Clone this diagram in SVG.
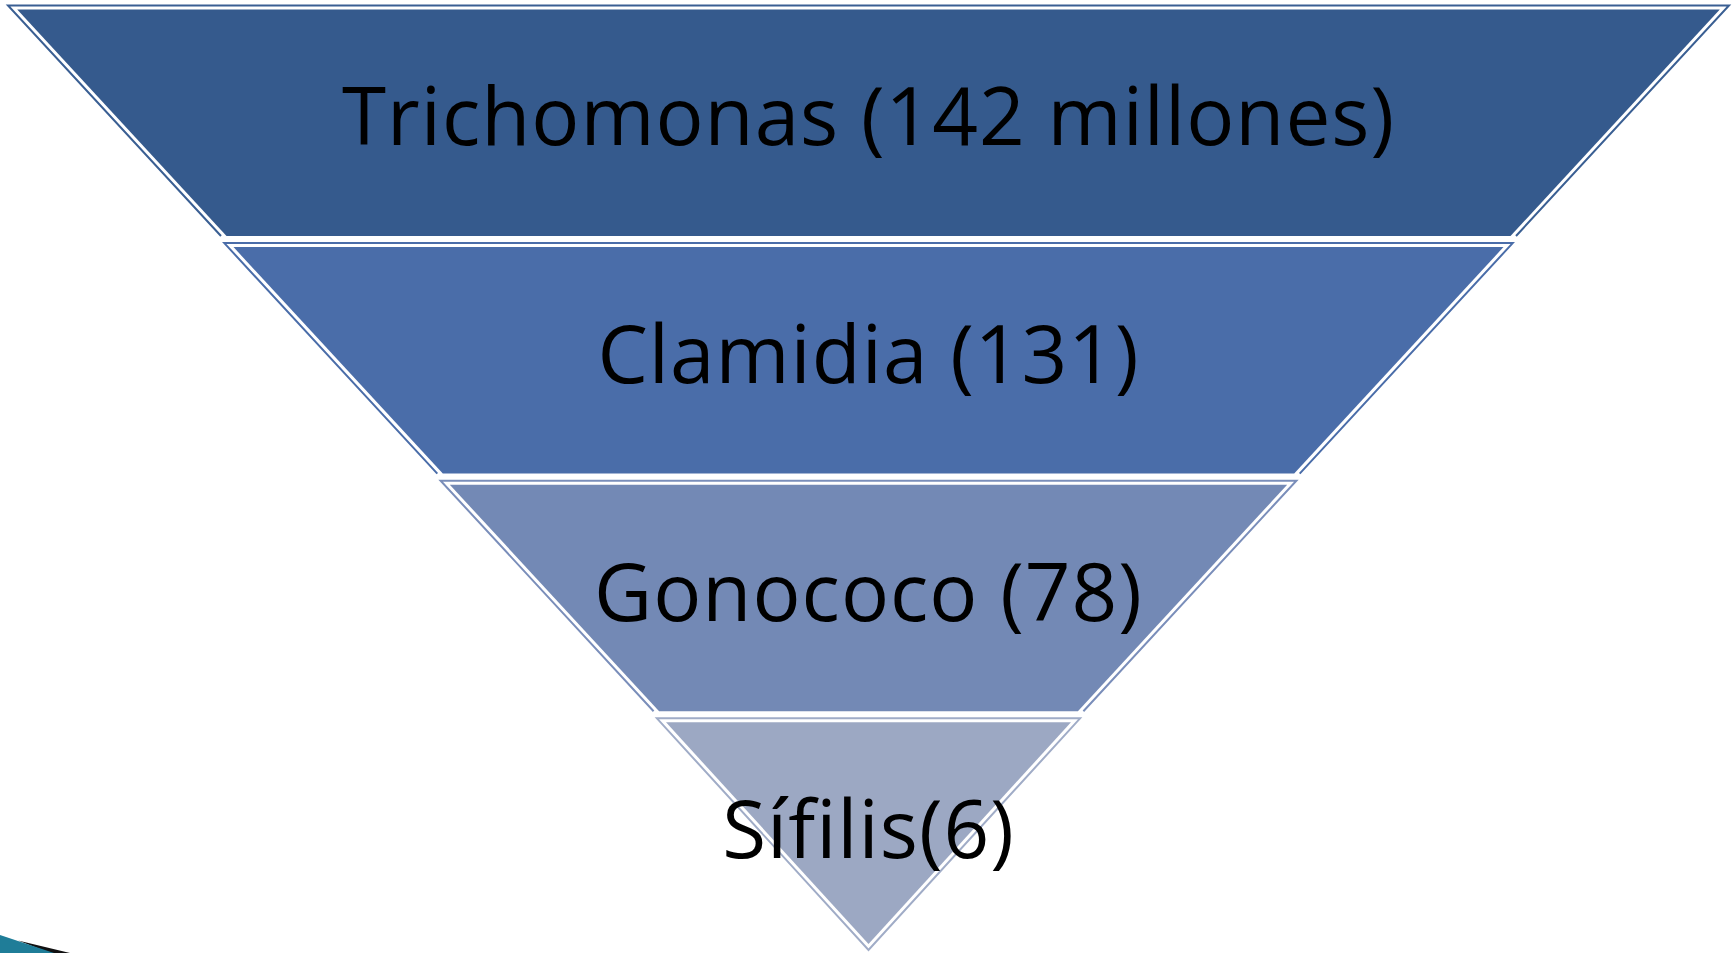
<svg xmlns="http://www.w3.org/2000/svg" width="1733" height="953" viewBox="0 0 1733 953">
  <style>
    .lbl { font-family: "Open Sans", "DejaVu Sans", sans-serif; font-size: 80px; fill: #000000; text-anchor: middle; letter-spacing: 1px; }
    .outline { fill: none; stroke-width: 2; stroke-linejoin: miter; }
  </style>
  <rect x="0" y="0" width="1733" height="953" fill="#ffffff"/>
  <g id="level1">
    <path class="outline" stroke="#3A5F93" d="M221,236 L8,5.5 L1729,5.5 L1516,236"/>
    <polygon fill="#355A8D" points="17.2,9.5 1719.8,9.5 1510.5,236 226.5,236"/>
    <text class="lbl" x="868.5" y="145">Trichomonas (142 millones)</text>
  </g>
  <g id="level2">
    <path class="outline" stroke="#4A6DA9" d="M437.3,473.6 L224.3,243.1 L1512.7,243.1 L1299.7,473.6"/>
    <polygon fill="#4A6DA9" points="233.5,247.1 1503.5,247.1 1294.2,473.6 442.8,473.6"/>
    <text class="lbl" x="868.5" y="383">Clamidia (131)</text>
  </g>
  <g id="level3">
    <path class="outline" stroke="#7A8EBA" d="M653.6,711.2 L440.6,480.7 L1296.4,480.7 L1083.4,711.2"/>
    <polygon fill="#7389B5" points="449.8,484.7 1287.2,484.7 1077.9,711.2 659.1,711.2"/>
    <text class="lbl" x="868.5" y="621">Gonococo (78)</text>
  </g>
  <g id="level4">
    <path class="outline" stroke="#A0ACC7" d="M656.9,718.3 L1080.1,718.3 L868.5,950 Z"/>
    <polygon fill="#9CA8C3" points="666,722.3 1071,722.3 868.5,944"/>
    <text class="lbl" x="868.5" y="858">Sífilis(6)</text>
  </g>
  <g id="corner-decoration">
    <polygon fill="#111111" points="18,940.5 70,953 50,953"/>
    <polygon fill="#1F7D98" points="0,935 54,953 0,953"/>
  </g>
</svg>
